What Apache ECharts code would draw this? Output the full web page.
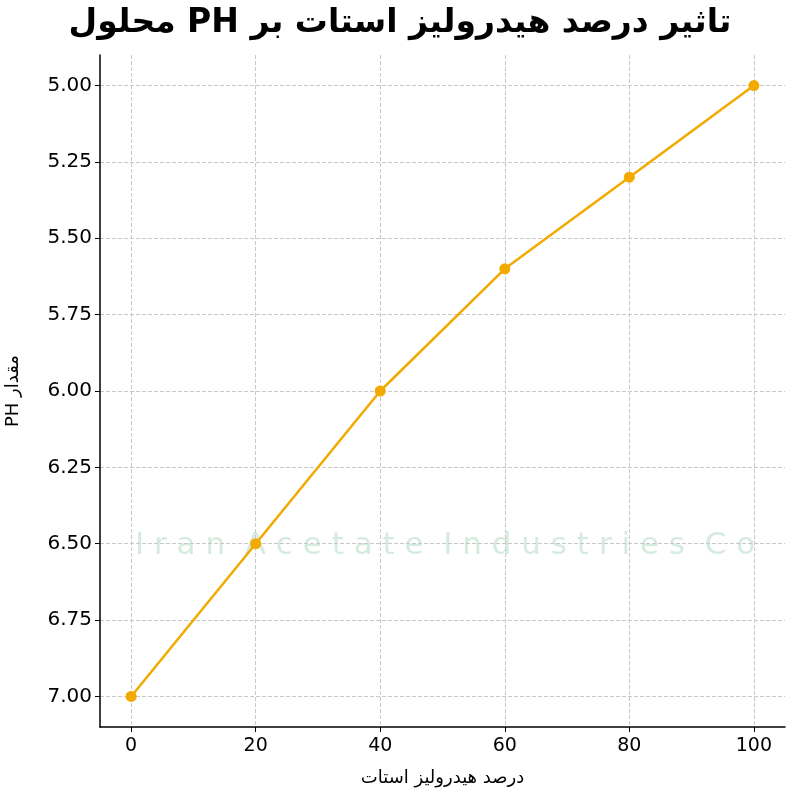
<!DOCTYPE html>
<html><head><meta charset="utf-8">
<script src="https://cdn.jsdelivr.net/npm/echarts@6/dist/echarts.min.js"></script>
<style>html,body{margin:0;padding:0;background:#fff}#c{width:800px;height:800px}</style>
</head><body><div id="c" dir="rtl"></div>
<script>
const xValues = [0, 20, 40, 60, 80, 100];
const phValues = [7.0, 6.5, 6.0, 5.6, 5.3, 5.0];
const xTicks = [0, 20, 40, 60, 80, 100];
const yTicks = [5.0, 5.25, 5.5, 5.75, 6.0, 6.25, 6.5, 6.75, 7.0];
const titleText = 'تاثیر درصد هیدرولیز استات بر PH محلول';
const xName = 'درصد هیدرولیز استات';
const yName = 'مقدار PH';
const font = 'DejaVu Sans';
const chart = echarts.init(document.getElementById('c'));
chart.setOption({
  animation: false,
  title: {text: titleText, left: 'center', top: 2, textStyle: {fontFamily: font, fontSize: 33, fontWeight: 'bold', color: '#000'}},
  grid: {left: 100, right: 15, top: 55, bottom: 73, outerBoundsMode: 'none', containLabel: false},
  graphic: [{type: 'text', left: 135, top: 530, z: 0, style: {text: 'I r a n  A c e t a t e  I n d u s t r i e s  C o', font: '31px DejaVu Sans', fill: 'rgba(120,190,150,0.3)'}}],
  xAxis: {type: 'value', min: -5, max: 105,
    name: xName, nameLocation: 'middle', nameGap: 42, nameTextStyle: {fontFamily: font, fontSize: 18, color: '#000'},
    axisLine: {onZero: false, lineStyle: {color: '#000', width: 1.5}},
    axisTick: {show: true, customValues: xTicks, lineStyle: {color: '#000'}},
    axisLabel: {customValues: xTicks, fontFamily: font, fontSize: 19, color: '#000', margin: 10},
    splitLine: {show: true, lineStyle: {type: 'dashed', color: '#c8c8c8'}}},
  yAxis: {type: 'value', inverse: true, min: 4.9, max: 7.1,
    name: yName, nameLocation: 'middle', nameGap: 78, nameRotate: 90, nameTextStyle: {fontFamily: font, fontSize: 18, color: '#000'},
    axisLine: {show: true, onZero: false, lineStyle: {color: '#000', width: 1.5}},
    axisTick: {show: true, customValues: yTicks, lineStyle: {color: '#000'}},
    axisLabel: {customValues: yTicks, fontFamily: font, fontSize: 20, color: '#000', margin: 8, formatter: v => v.toFixed(2)},
    splitLine: {show: true, lineStyle: {type: 'dashed', color: '#c8c8c8'}}},
  series: [{type: 'line', data: xValues.map((x, i) => [x, phValues[i]]),
    symbol: 'circle', symbolSize: 11, lineStyle: {color: '#f2a900', width: 2.5}, itemStyle: {color: '#f2a900'}}]
});
</script></body></html>
